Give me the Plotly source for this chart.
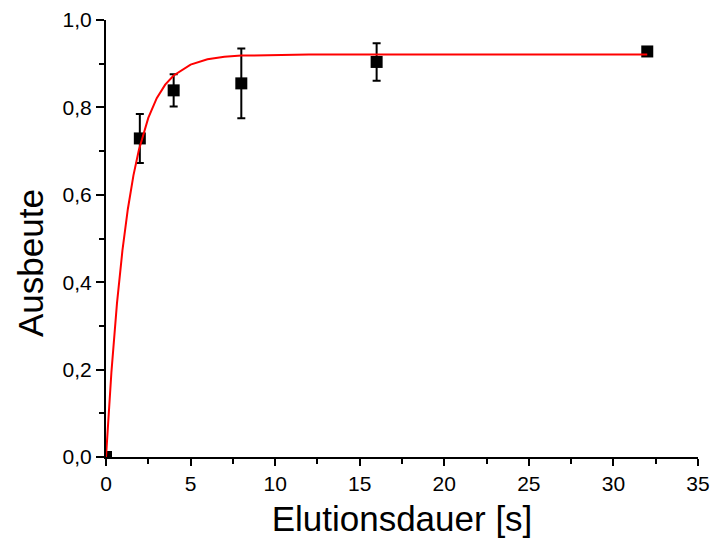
import plotly.graph_objects as go

# measured data points
x_data = [0, 2, 4, 8, 16, 32]
y_data = [0.0, 0.729, 0.839, 0.855, 0.904, 0.928]
y_err = [0.0, 0.056, 0.037, 0.080, 0.043, 0.010]

# fitted curve
x_fit = [0, 0.32, 0.65, 0.97, 1.29, 1.62, 1.94, 2.5, 3, 3.5, 4, 5, 6, 7, 8, 10, 12, 16, 20, 25, 32]
y_fit = [0, 0.194, 0.352, 0.472, 0.567, 0.644, 0.702, 0.776, 0.821, 0.852, 0.873,
         0.898, 0.910, 0.916, 0.9185, 0.9204, 0.921, 0.921, 0.921, 0.921, 0.921]

x_ticks = [0, 5, 10, 15, 20, 25, 30, 35]
y_ticks = [0.0, 0.2, 0.4, 0.6, 0.8, 1.0]

FONT = "Liberation Sans, Arial, sans-serif"

ML, MR, MT, MB = 106, 14, 20, 91
W, H = 712, 548
PW = W - ML - MR
PH = H - MT - MB

fig = go.Figure()
fig.add_trace(go.Scatter(
    x=x_data, y=y_data, mode="markers",
    marker=dict(symbol="square", size=12, color="black"),
    error_y=dict(type="data", array=y_err, visible=True, color="black",
                 thickness=2, width=4),
    cliponaxis=True, showlegend=False))
fig.add_trace(go.Scatter(
    x=x_fit, y=y_fit, mode="lines",
    line=dict(color="#ff0000", width=2),
    cliponaxis=True, showlegend=False))

fig.update_layout(
    width=W, height=H,
    margin=dict(l=ML, r=MR, t=MT, b=MB),
    paper_bgcolor="white", plot_bgcolor="white",
    separators=",.",
    font=dict(family=FONT, color="black"),
    annotations=[
        dict(text="Ausbeute", textangle=-90, showarrow=False,
             xref="paper", yref="paper", x=(30 - ML) / PW, y=(H - MB - 263) / PH,
             xanchor="center", yanchor="middle", font=dict(size=35, family=FONT)),
    ],
)
fig.update_xaxes(
    range=[0, 35], tickvals=x_ticks, ticktext=[str(v) for v in x_ticks],
    automargin=False,
    showgrid=False, zeroline=False, showline=True, linecolor="black", linewidth=2,
    ticks="outside", ticklen=7, tickwidth=2, tickcolor="black",
    minor=dict(dtick=2.5, ticks="outside", ticklen=5, tickwidth=2, tickcolor="black"),
    tickfont=dict(size=21, family=FONT),
    title=dict(text="Elutionsdauer [s]", font=dict(size=35, family=FONT), standoff=12),
)
fig.update_yaxes(
    range=[0, 1.0], tickvals=y_ticks, tickformat=".1f",
    automargin=False,
    showgrid=False, zeroline=False, showline=True, linecolor="black", linewidth=2,
    ticks="outside", ticklen=8, tickwidth=2, tickcolor="black",
    minor=dict(dtick=0.1, ticks="outside", ticklen=5, tickwidth=2, tickcolor="black"),
    tickfont=dict(size=21, family=FONT),
)

fig.write_html("out.html")
